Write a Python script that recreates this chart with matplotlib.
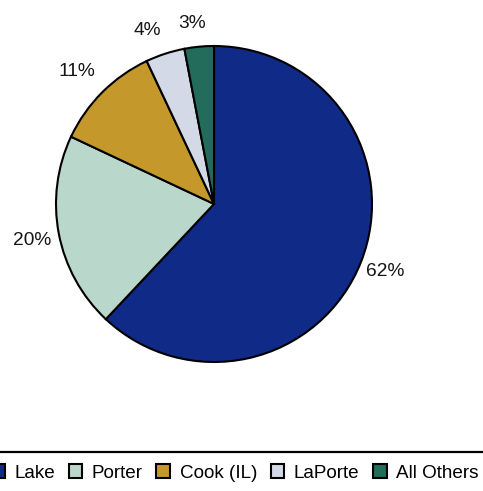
import numpy as np
import matplotlib
matplotlib.use("Agg")
import matplotlib.pyplot as plt
from matplotlib.lines import Line2D

plt.rcParams['font.family'] = ['Liberation Sans', 'DejaVu Sans']

counties = ["Lake", "Porter", "Cook (IL)", "LaPorte", "All Others"]
shares = [62, 20, 11, 4, 3]
colors = ["#102A88", "#BAD7CB", "#C4982A", "#D4D9E8", "#236B5A"]

W, H = 483, 491
cx, cy, r = 214, 204, 158

fig = plt.figure(figsize=(W / 100, H / 100), dpi=100)
ax = fig.add_axes([0, 0, 1, 1])

wedges, _, pcts = ax.pie(
    shares, colors=colors, startangle=90, counterclock=False,
    autopct="%d%%", radius=1,
    wedgeprops=dict(edgecolor="black", linewidth=1.5),
    textprops=dict(fontsize=13.75, color="#151515"),
)

# push the percent labels outside, nudging the thin slices apart
dist = [1.165, 1.175, 1.21, 1.175, 1.15]
shift = [0, 0.5, 1.0, 3.0, 1.5]
for w, t, d, s in zip(wedges, pcts, dist, shift):
    a = np.deg2rad((w.theta1 + w.theta2) / 2 + s)
    t.set_position((d * np.cos(a), d * np.sin(a)))
    t.set_ha("center")
    t.set_va("center")

# pixel-based limits so the circle sits where it should
ax.set_xlim(-cx / r, (W - cx) / r)
ax.set_ylim(-(H - cy) / r, cy / r)
ax.set_aspect("auto")
ax.axis("off")

# rule above legend
ly = 1 - 452 / H
fig.add_artist(Line2D([0, 1], [ly, ly], color="black", linewidth=1.6,
                      transform=fig.transFigure))

fig.legend(wedges, counties, loc="center left",
           bbox_to_anchor=(-9 / W, 1 - 473 / H), ncol=5, frameon=False,
           fontsize=13.6, handlelength=0.73, handleheight=0.73,
           handletextpad=0.5, columnspacing=0.72, borderpad=0,
           borderaxespad=0)

fig.savefig("out.png", dpi=100)
